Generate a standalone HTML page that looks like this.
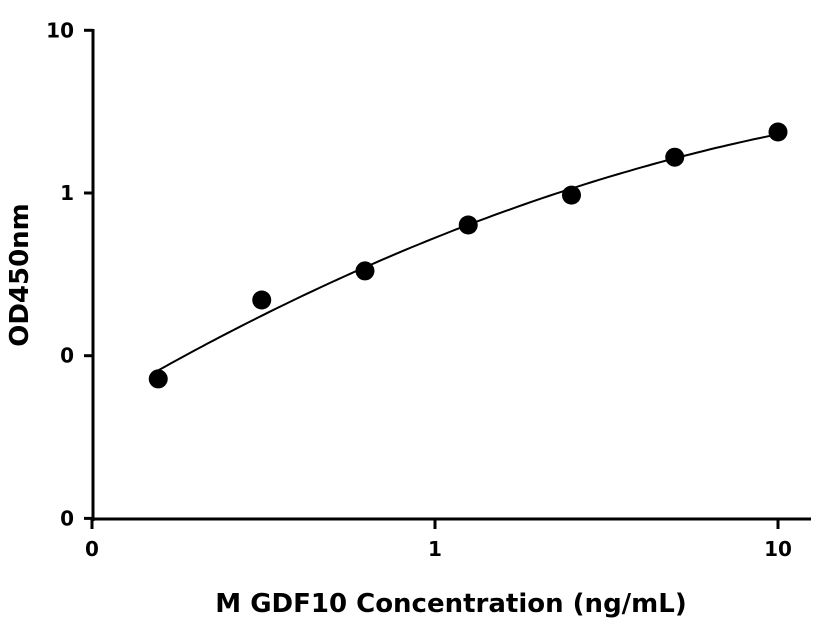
<!DOCTYPE html>
<html><head><meta charset="utf-8"><style>
body{margin:0;background:#fff;}
svg{display:block;font-family:"DejaVu Sans","Liberation Sans",sans-serif;}
</style></head><body>
<svg id="chart" width="816" height="640" viewBox="0 0 816 640">
<g id="axes"></g>
<path id="fit" fill="none" stroke="#000" stroke-width="2"/>
<g id="pts"></g>
<text x="28" y="275" transform="rotate(-90 28 275)" text-anchor="middle" font-size="26" font-weight="bold">OD450nm</text>
<text x="451" y="612" text-anchor="middle" font-size="26" font-weight="bold">M GDF10 Concentration (ng/mL)</text>
</svg>
<script>
const concentrations=[0.156,0.3125,0.625,1.25,2.5,5,10];
const odValues=[0.072,0.22,0.332,0.636,0.97,1.66,2.37];
const xTicks=[0.1,1,10];
const xTickLabels=["0","1","10"];
const yTicks=[0.01,0.1,1,10];
const yTickLabels=["0","0","1","10"];
const NS="http://www.w3.org/2000/svg";
function X(v){return 435+343*Math.log10(v);}
function Y(v){return 193-162.7*Math.log10(v);}
const axes=document.getElementById('axes');
function mk(tag,attrs,parent){const e=document.createElementNS(NS,tag);for(const k in attrs)e.setAttribute(k,attrs[k]);parent.appendChild(e);return e;}
let e=mk('line',{x1:93,y1:29,x2:93,y2:521,stroke:'#000','stroke-width':3},axes);


e=mk('line',{x1:92,y1:519,x2:811,y2:519,stroke:'#000','stroke-width':3},axes);


yTicks.forEach((t,i)=>{
 const y=Y(t);
 let l=mk('line',{x1:84,y1:y,x2:93,y2:y,stroke:'#000','stroke-width':3},axes);
 
 
 let tx=mk('text',{x:74,y:y+7,'text-anchor':'end','font-size':20,'font-weight':'bold'},axes);
 tx.textContent=yTickLabels[i];
 
 
});
xTicks.forEach((t,i)=>{
 const x=X(t);
 let l=mk('line',{x1:x,y1:519,x2:x,y2:529,stroke:'#000','stroke-width':3},axes);
 
 
 let tx=mk('text',{x:x,y:556,'text-anchor':'middle','font-size':20,'font-weight':'bold'},axes);
 tx.textContent=xTickLabels[i];
 
 
});
// quadratic least-squares fit in log-log space
const lx=concentrations.map(Math.log10), ly=odValues.map(Math.log10);
const S=[[0,0,0],[0,0,0],[0,0,0]],B=[0,0,0];
lx.forEach((x,i)=>{const p=[1,x,x*x];for(let a=0;a<3;a++){B[a]+=p[a]*ly[i];for(let b=0;b<3;b++)S[a][b]+=p[a]*p[b];}});
function solve(A,b){const n=3;A=A.map((r,i)=>r.concat([b[i]]));for(let i=0;i<n;i++){let m=i;for(let k=i+1;k<n;k++)if(Math.abs(A[k][i])>Math.abs(A[m][i]))m=k;[A[i],A[m]]=[A[m],A[i]];for(let k=i+1;k<n;k++){const f=A[k][i]/A[i][i];for(let j=i;j<=n;j++)A[k][j]-=f*A[i][j];}}const x=[0,0,0];for(let i=n-1;i>=0;i--){let s=A[i][n];for(let j=i+1;j<n;j++)s-=A[i][j]*x[j];x[i]=s/A[i][i];}return x;}
const c=solve(S,B);
let d='';const x0=lx[0],x1=lx[lx.length-1];
for(let i=0;i<=100;i++){const x=x0+(x1-x0)*i/100;const y=c[0]+c[1]*x+c[2]*x*x;d+=(i?'L':'M')+X(Math.pow(10,x)).toFixed(1)+','+Y(Math.pow(10,y)).toFixed(1);}
document.getElementById('fit').setAttribute('d',d);
const pts=document.getElementById('pts');
concentrations.forEach((v,i)=>{
 const p=mk('circle',{cx:X(v),cy:Y(odValues[i]),r:9.5,fill:'#000'},pts);
 
 
});
</script>
</body></html>
